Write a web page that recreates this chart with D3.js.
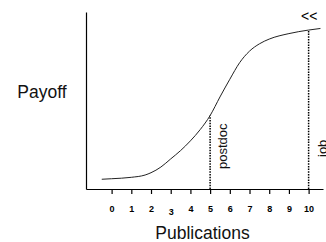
<!DOCTYPE html>
<html>
<head>
<meta charset="utf-8">
<script src="https://cdn.jsdelivr.net/npm/d3@7"></script>
<style>
  body { margin: 0; background: #fff; }
  text { font-family: "Liberation Sans", Arial, sans-serif; }
</style>
</head>
<body>
<div id="viz"></div>
<script>
// curve
var pubs   = [-0.5, 0, 1, 1.7, 2, 2.5, 3, 3.5, 4, 4.5, 5, 5.5, 6, 6.5, 7, 7.5, 8, 9, 10, 10.6];
var payoff = [5.5, 5.8, 6.6, 7.9, 9.2, 12.4, 17, 21.7, 27.2, 33.6, 41.5, 52, 62, 71.4, 77.9, 82, 84.7, 87.8, 89.8, 90.7];
var tickVals = [0, 1, 2, 3, 4, 5, 6, 7, 8, 9, 10];
var markers = [{ x: 5, y: 41.5, label: "postdoc" }, { x: 10, y: 89.8, label: "job" }];

var margin = { top: 12, right: 3, bottom: 53, left: 86 },
    width = 326 - margin.left - margin.right,
    height = 242 - margin.top - margin.bottom;

var svg = d3.select("#viz")
  .append("svg")
  .attr("width", 326)
  .attr("height", 242)
  .append("g")
  .attr("transform", "translate(" + margin.left + "," + margin.top + ")");

var xScale = d3.scaleLinear().domain([-1.3, 10.73]).range([0, width]),
    yScale = d3.scaleLinear().domain([0, 100]).range([height, 0]);

// x axis
var gx = svg.append("g")
  .attr("transform", "translate(0," + height + ")")
  .call(d3.axisBottom(xScale).tickValues(tickVals).tickSize(5).tickSizeOuter(0).tickPadding(12));
gx.select(".domain").attr("stroke", "#000").attr("stroke-width", 1.2);
gx.selectAll(".tick line").attr("stroke", "#000").attr("stroke-width", 1.2);
gx.selectAll(".tick text")
  .attr("font-family", "Liberation Sans, Arial, sans-serif")
  .attr("font-size", "9px")
  .attr("font-weight", "bold")
  .attr("fill", "#000")
  .attr("dy", d => d === 3 ? "0.95em" : "0.71em");

// y axis, no ticks
var gy = svg.append("g")
  .call(d3.axisLeft(yScale).tickValues([]).tickSizeOuter(0));
gy.select(".domain").attr("stroke", "#000").attr("stroke-width", 1.2);

// dotted markers
svg.selectAll(".marker")
  .data(markers)
  .enter().append("line")
  .attr("x1", d => xScale(d.x))
  .attr("x2", d => xScale(d.x))
  .attr("y1", yScale(0))
  .attr("y2", d => yScale(d.y))
  .attr("stroke", "#000")
  .attr("stroke-width", 1.5)
  .attr("stroke-dasharray", "1.5,1.2");

svg.selectAll(".mlabel")
  .data(markers)
  .enter().append("text")
  .attr("transform", d => "translate(" + (xScale(d.x) + (d.x === 10 ? 18 : 16.5)) + "," +
        (d.x === 10 ? 145 : 157) + ") rotate(-90)")
  .attr("font-size", "13px")
  .attr("fill", "#111")
  .text(d => d.label);

// curve
var line = d3.line()
  .x(d => xScale(d[0]))
  .y(d => yScale(d[1]))
  .curve(d3.curveMonotoneX);

svg.append("path")
  .datum(pubs.map((p, i) => [p, payoff[i]]))
  .attr("fill", "none")
  .attr("stroke", "#222")
  .attr("stroke-width", 1)
  .attr("d", line);

// "<<" marker
svg.append("text")
  .attr("x", xScale(10.45))
  .attr("y", 8.5)
  .attr("text-anchor", "end")
  .attr("font-size", "14px")
  .attr("fill", "#000")
  .text("<<");

// axis labels
svg.append("text")
  .attr("x", width / 2 - 2)
  .attr("y", height + 50)
  .attr("text-anchor", "middle")
  .attr("font-size", "17.5px")
  .attr("fill", "#111")
  .text("Publications");

svg.append("text")
  .attr("x", 42 - margin.left)
  .attr("y", 86)
  .attr("text-anchor", "middle")
  .attr("font-size", "17.5px")
  .attr("fill", "#111")
  .text("Payoff");
</script>
</body>
</html>
